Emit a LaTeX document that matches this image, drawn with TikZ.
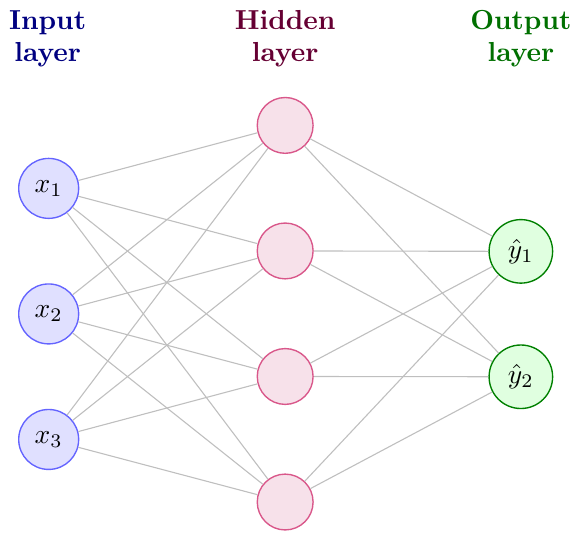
\documentclass[tikz,border=0pt]{standalone}
\usepackage{xcolor}
\usepackage{tikz}
\usepackage{amsmath,amssymb}
\usetikzlibrary{positioning}
\definecolor{inputblue}{HTML}{6464FF}
\definecolor{inputfill}{HTML}{E0E0FF}
\definecolor{inputtitle}{HTML}{000080}
\definecolor{hiddenrose}{HTML}{D9578A}
\definecolor{hiddenfill}{HTML}{F7E1EA}
\definecolor{hiddentitle}{HTML}{660033}
\definecolor{outputgreen}{HTML}{008000}
\definecolor{outputfill}{HTML}{E0FFE0}
\definecolor{outputtitle}{HTML}{007000}

\begin{document}
\begin{tikzpicture}[x=1pt, y=1pt,
    neuron/.style={circle, draw, line width=0.5pt, inner sep=0pt},
    inputneuron/.style={neuron, draw=inputblue, fill=inputfill, minimum size=21.8pt},
    hiddenneuron/.style={neuron, draw=hiddenrose, fill=hiddenfill, minimum size=20.3pt},
    outputneuron/.style={neuron, draw=outputgreen, fill=outputfill, minimum size=23.1pt},
    synapse/.style={draw=black!25, line width=0.4pt},
    layertitle/.style={align=center, font=\bfseries, inner sep=0pt, anchor=base}]
  \useasboundingbox (0,0) rectangle (212,-193.8);

  % Layer titles
  \node[layertitle, text=inputtitle] (inputtitle) at (17.3,-22.2) {Input\\[-0.5pt]layer};
  \node[layertitle, text=hiddentitle] (hiddentitle) at (103.7,-22.2) {Hidden\\[-0.5pt]layer};
  \node[layertitle, text=outputtitle] (outputtitle) at (189.4,-22.2) {Output\\[-0.5pt]layer};

  % Neurons
  \foreach \i in {1,2,3}
    \node[inputneuron] (in\i) at (17.7,{-68.5-45.65*(\i-1)}) {$x_{\i}$};
  \foreach \j in {1,...,4}
    \node[hiddenneuron] (hid\j) at (103.7,{-45.6-45.65*(\j-1)}) {};
  \foreach \k in {1,2}
    \node[outputneuron] (out\k) at (189.4,{-91.4-45.6*(\k-1)}) {$\hat{y}_{\k}$};

  % Connections
  \foreach \i in {1,2,3}
    \foreach \j in {1,...,4}
      \draw[synapse] (in\i) -- (hid\j);
  \foreach \j in {1,...,4}
    \foreach \k in {1,2}
      \draw[synapse] (hid\j) -- (out\k);
\end{tikzpicture}
\end{document}
